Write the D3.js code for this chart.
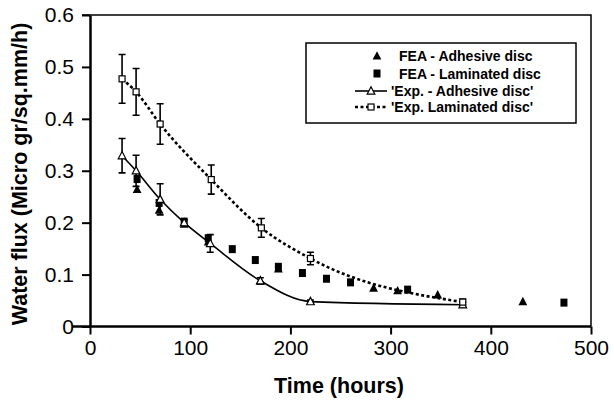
<!DOCTYPE html>
<html>
<head>
<meta charset="utf-8">
<script src="https://cdn.jsdelivr.net/npm/d3@7"></script>
<style>
  html, body { margin: 0; padding: 0; background: #fff; }
  svg text { font-family: "Liberation Sans", Arial, sans-serif; fill: #000; }
</style>
</head>
<body>
<svg id="chart" width="614" height="404"></svg>
<script>
// Water flux through the discs: FEA predictions and experimental measurements
const feaAdhesiveTime  = [47, 69, 94, 118, 170, 188, 283, 307, 347, 432];
const feaAdhesiveFlux  = [0.264, 0.224, 0.197, 0.163, 0.088, 0.111, 0.074, 0.069, 0.061, 0.048];

const feaLaminatedTime = [47, 69, 94, 118, 142, 165, 188, 212, 236, 260, 317, 473];
const feaLaminatedFlux = [0.284, 0.238, 0.202, 0.170, 0.149, 0.128, 0.115, 0.103, 0.092, 0.085, 0.071, 0.046];

const expAdhesiveTime  = [32, 46, 70, 94, 120, 170, 220, 372];
const expAdhesiveFlux  = [0.329, 0.300, 0.245, 0.200, 0.160, 0.088, 0.048, 0.042];
const expAdhesiveErr   = [0.033, 0.030, 0.030, 0.005, 0.017, 0.006, 0.003, 0.005];

const expLaminatedTime = [32, 46, 70, 121, 171, 220, 372];
const expLaminatedFlux = [0.477, 0.452, 0.390, 0.283, 0.190, 0.131, 0.047];
const expLaminatedErr  = [0.047, 0.045, 0.039, 0.028, 0.018, 0.012, 0.006];

const xTicks = [0, 100, 200, 300, 400, 500];
const xTickLabels = ["0", "100", "200", "300", "400", "500"];
const yTicks = [0, 0.1, 0.2, 0.3, 0.4, 0.5, 0.6];
const yTickLabels = ["0", "0.1", "0.2", "0.3", "0.4", "0.5", "0.6"];

const legendLabels = ["FEA - Adhesive disc", "FEA - Laminated disc", "'Exp. - Adhesive disc'", "'Exp.  Laminated disc'"];
const xTitle = "Time (hours)";
const yTitle = "Water flux (Micro gr/sq.mm/h)";

const svg = d3.select("#chart");
const x = d3.scaleLinear().domain([0, 500]).range([90, 591]);
const y = d3.scaleLinear().domain([0, 0.6]).range([326.5, 15]);

const zip = (ts, vs, es) => ts.map((t, i) => ({ t, v: vs[i], e: es ? es[i] : 0 }));
const feaA = zip(feaAdhesiveTime, feaAdhesiveFlux);
const feaL = zip(feaLaminatedTime, feaLaminatedFlux);
const expA = zip(expAdhesiveTime, expAdhesiveFlux, expAdhesiveErr);
const expL = zip(expLaminatedTime, expLaminatedFlux, expLaminatedErr);

// frame top and right
svg.append("path")
  .attr("d", `M${x(0) - 8},${y(0.6)}H${x(500)}V${y(0)}`)
  .attr("fill", "none").attr("stroke", "#000").attr("stroke-width", 1.5);

// axes
const xAxis = d3.axisBottom(x).tickValues(xTicks).tickFormat((d, i) => xTickLabels[i]).tickSize(8).tickSizeOuter(0).tickPadding(6);
const yAxis = d3.axisLeft(y).tickValues(yTicks).tickFormat((d, i) => yTickLabels[i]).tickSize(8).tickSizeOuter(0).tickPadding(8);

const gx = svg.append("g").attr("transform", `translate(0,${y(0)})`).call(xAxis);
const gy = svg.append("g").attr("transform", `translate(${x(0)},0)`).call(yAxis);
[gx, gy].forEach(g => {
  g.select(".domain").attr("stroke", "#000").attr("stroke-width", 2.5);
  g.selectAll(".tick line").attr("stroke", "#000").attr("stroke-width", 2);
  g.selectAll(".tick text").attr("font-size", 21).attr("font-family", "Liberation Sans, Arial, sans-serif").attr("fill", "#000");
});
gx.select(".domain").attr("d", `M${x(0) - 18},0H${x(500)}`);

// axis titles
svg.append("text")
  .attr("x", 339).attr("y", 393)
  .attr("text-anchor", "middle").attr("font-size", 21.5).attr("font-weight", "bold")
  .text(xTitle);
svg.append("text")
  .attr("transform", "translate(27,174) rotate(-90)")
  .attr("text-anchor", "middle").attr("font-size", 21.5).attr("font-weight", "bold")
  .text(yTitle);

const plot = svg.append("g");
const curve = d3.curveMonotoneX;
const line = d3.line().x(d => x(d.t)).y(d => y(d.v)).curve(curve);

// experimental curves
plot.append("path").datum(expA).attr("d", line)
  .attr("fill", "none").attr("stroke", "#000").attr("stroke-width", 1.6);
plot.append("path").datum(expL).attr("d", line)
  .attr("fill", "none").attr("stroke", "#000").attr("stroke-width", 2.6)
  .attr("stroke-dasharray", "3,2.5");

// error bars
function errorBars(data) {
  const g = plot.append("g").attr("stroke", "#000").attr("stroke-width", 1.6).attr("fill", "none");
  g.selectAll("path").data(data.filter(d => d.e > 0)).join("path")
    .attr("d", d => {
      const cx = x(d.t), t = y(d.v + d.e), b = y(d.v - d.e);
      return `M${cx - 3.5},${t}H${cx + 3.5}M${cx},${t}V${b}M${cx - 3.5},${b}H${cx + 3.5}`;
    });
}
errorBars(expL);
errorBars(expA);

const triPath = s => `M0,${-s * 0.6}L${s * 0.55},${s * 0.45}L${-s * 0.55},${s * 0.45}Z`;

// FEA markers
plot.append("g").selectAll("path").data(feaA).join("path")
  .attr("transform", d => `translate(${x(d.t)},${y(d.v)})`)
  .attr("d", triPath(8)).attr("fill", "#000");
plot.append("g").selectAll("rect").data(feaL).join("rect")
  .attr("x", d => x(d.t) - 3.5).attr("y", d => y(d.v) - 4)
  .attr("width", 7).attr("height", 8).attr("fill", "#000");

// experimental markers
plot.append("g").selectAll("path").data(expA).join("path")
  .attr("transform", d => `translate(${x(d.t)},${y(d.v)})`)
  .attr("d", triPath(7)).attr("fill", "#fff").attr("stroke", "#000").attr("stroke-width", 1.2);
plot.append("g").selectAll("rect").data(expL).join("rect")
  .attr("x", d => x(d.t) - 3).attr("y", d => y(d.v) - 3)
  .attr("width", 6).attr("height", 6).attr("fill", "#fff").attr("stroke", "#000").attr("stroke-width", 1.2);

// legend
const lg = svg.append("g");
lg.append("rect").attr("x", 306).attr("y", 43).attr("width", 270).attr("height", 80)
  .attr("fill", "#fff").attr("stroke", "#000").attr("stroke-width", 1.5);
const rowY = [56, 73.5, 91, 107];
lg.append("path").attr("transform", `translate(377,${rowY[0]})`).attr("d", triPath(8)).attr("fill", "#000");
lg.append("rect").attr("x", 373.5).attr("y", rowY[1] - 4).attr("width", 7).attr("height", 8).attr("fill", "#000");
lg.append("line").attr("x1", 355).attr("x2", 387).attr("y1", rowY[2]).attr("y2", rowY[2])
  .attr("stroke", "#000").attr("stroke-width", 1.6);
lg.append("path").attr("transform", `translate(371,${rowY[2]})`).attr("d", triPath(7))
  .attr("fill", "#fff").attr("stroke", "#000").attr("stroke-width", 1.2);
lg.append("line").attr("x1", 355).attr("x2", 387).attr("y1", rowY[3]).attr("y2", rowY[3])
  .attr("stroke", "#000").attr("stroke-width", 2.6).attr("stroke-dasharray", "3,2.5");
lg.append("rect").attr("x", 368).attr("y", rowY[3] - 3).attr("width", 6).attr("height", 6)
  .attr("fill", "#fff").attr("stroke", "#000").attr("stroke-width", 1.2);
const textX = [399, 399, 391, 391];
lg.selectAll("text.lab").data(legendLabels).join("text").attr("class", "lab")
  .attr("x", (d, i) => textX[i]).attr("y", (d, i) => rowY[i])
  .attr("dy", "0.36em").attr("font-size", 14).attr("font-weight", "bold")
  .text(d => d);
</script>
</body>
</html>
